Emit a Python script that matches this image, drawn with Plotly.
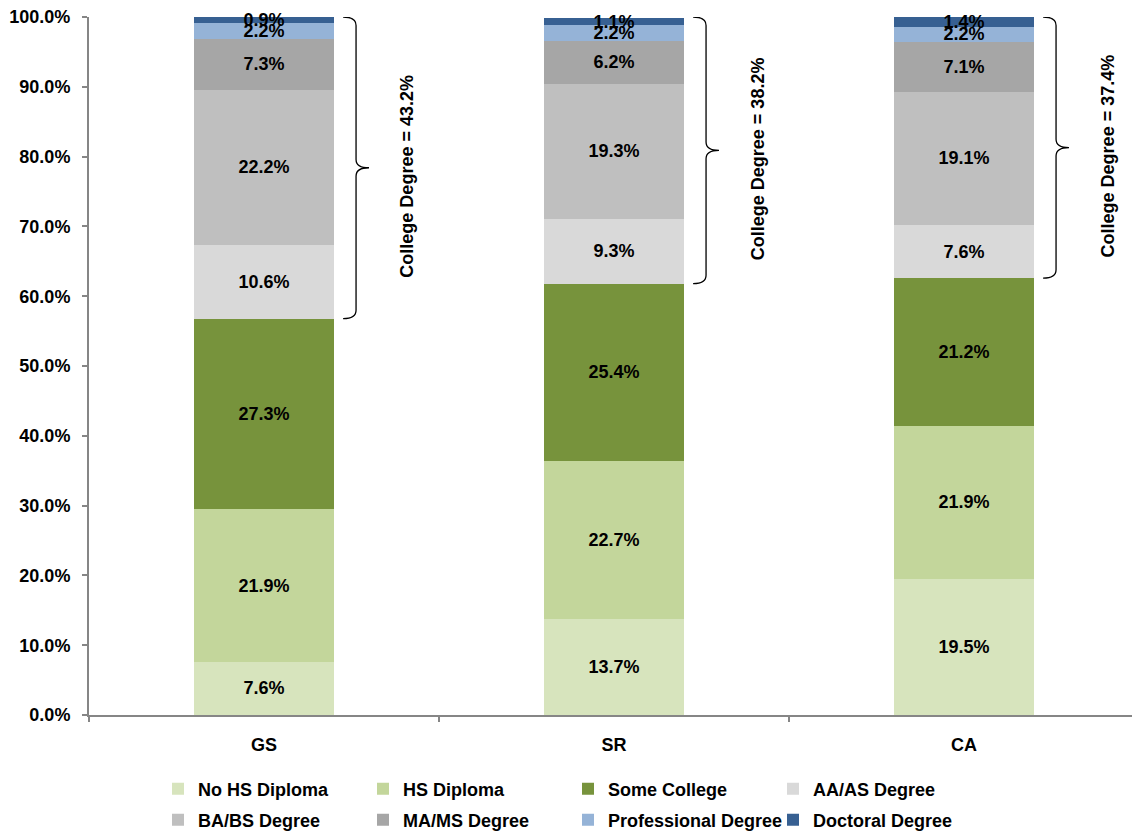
import plotly.graph_objects as go

# Educational attainment shares (%) by area
areas = ["GS", "SR", "CA"]
levels = [
    "No HS Diploma", "HS Diploma", "Some College", "AA/AS Degree",
    "BA/BS Degree", "MA/MS Degree", "Professional Degree", "Doctoral Degree",
]
no_hs = [7.6, 13.7, 19.5]
hs_diploma = [21.9, 22.7, 21.9]
some_college = [27.3, 25.4, 21.2]
aa_as = [10.6, 9.3, 7.6]
ba_bs = [22.2, 19.3, 19.1]
ma_ms = [7.3, 6.2, 7.1]
professional = [2.2, 2.2, 2.2]
doctoral = [0.9, 1.1, 1.4]
college_degree_total = [43.2, 38.2, 37.4]

series = [no_hs, hs_diploma, some_college, aa_as, ba_bs, ma_ms, professional, doctoral]
colors = ["#D7E4BD", "#C3D69B", "#77933C", "#D9D9D9",
          "#BFBFBF", "#A6A6A6", "#95B3D7", "#376092"]

FONT = "Liberation Sans, Arial, sans-serif"
xpos = list(range(len(areas)))

fig = go.Figure()
for i, (name, vals, col) in enumerate(zip(levels, series, colors)):
    fig.add_trace(go.Bar(
        x=xpos, y=vals, name=name,
        marker=dict(color=col, line=dict(width=0)),
        width=0.4,
        text=[f"{v:.1f}%" for v in vals],
        textposition="inside", insidetextanchor="middle",
        constraintext="none", cliponaxis=False,
        textfont=dict(family=FONT, size=18, color="black", weight="bold"),
        hoverinfo="skip",
        legend="legend" if i < 4 else "legend2",
    ))

# Braces spanning the college-degree segments, with rotated totals
shapes = []
annotations = []
for i in xpos:
    bottom = no_hs[i] + hs_diploma[i] + some_college[i]
    top = sum(s[i] for s in series)
    top = max(top, 100.0) if top > 99.5 else top
    mid = (top + bottom) / 2
    xe, xl, xt = i + 0.226, i + 0.263, i + 0.300
    d = 1.2
    path = (
        f"M {xe},{top} Q {xl},{top} {xl},{top - d} "
        f"L {xl},{mid + d} Q {xl},{mid} {xt},{mid} "
        f"Q {xl},{mid} {xl},{mid - d} "
        f"L {xl},{bottom + d} Q {xl},{bottom} {xe},{bottom}"
    )
    shapes.append(dict(type="path", path=path, xref="x", yref="y",
                       line=dict(color="black", width=1.3)))
    annotations.append(dict(
        x=i + 0.41, y=mid - 1.2, xref="x", yref="y",
        text=f"College Degree = {college_degree_total[i]:.1f}%",
        textangle=-90, showarrow=False,
        font=dict(family=FONT, size=18, color="black", weight="bold"),
    ))

legend_common = dict(
    orientation="h", entrywidth=160, entrywidthmode="pixels",
    xref="container", yref="container", xanchor="left", yanchor="middle",
    font=dict(family=FONT, size=18, color="black", weight="bold"),
    bgcolor="rgba(0,0,0,0)", itemclick=False, itemdoubleclick=False,
    traceorder="normal",
)

fig.update_layout(
    width=1132, height=831,
    margin=dict(l=89, r=0, t=17, b=116),
    paper_bgcolor="white", plot_bgcolor="white",
    barmode="stack", bargap=0.6,
    font=dict(family=FONT, size=18, color="black"),
    uniformtext=dict(minsize=18, mode="show"),
    showlegend=True,
    legend=dict(x=158 / 1132, y=1 - 789 / 831, **legend_common),
    legend2=dict(x=158 / 1132, y=1 - 820 / 831, **legend_common),
    shapes=shapes,
    annotations=annotations,
    xaxis=dict(
        range=[-0.5, 2.48], tickmode="array", tickvals=xpos, ticktext=areas,
        ticks="", showgrid=False, zeroline=False,
        showline=True, linecolor="#868686", linewidth=2,
        tickfont=dict(family=FONT, size=18, color="black", weight="bold"),
        ticklabelstandoff=12,
        minor=dict(tickmode="array", tickvals=[-0.5, 0.5, 1.5],
                   ticks="outside", ticklen=5, tickcolor="#868686", tickwidth=1.5,
                   showgrid=False),
    ),
    yaxis=dict(
        range=[0, 100], tickmode="linear", tick0=0, dtick=10,
        tickformat=".1f", ticksuffix="%",
        ticks="outside", ticklen=5, tickcolor="#868686", tickwidth=1.5,
        showgrid=False, zeroline=False,
        showline=True, linecolor="#868686", linewidth=2,
        tickfont=dict(family=FONT, size=18, color="black", weight="bold"),
        ticklabelstandoff=8,
    ),
)

fig.write_html("out.html")
